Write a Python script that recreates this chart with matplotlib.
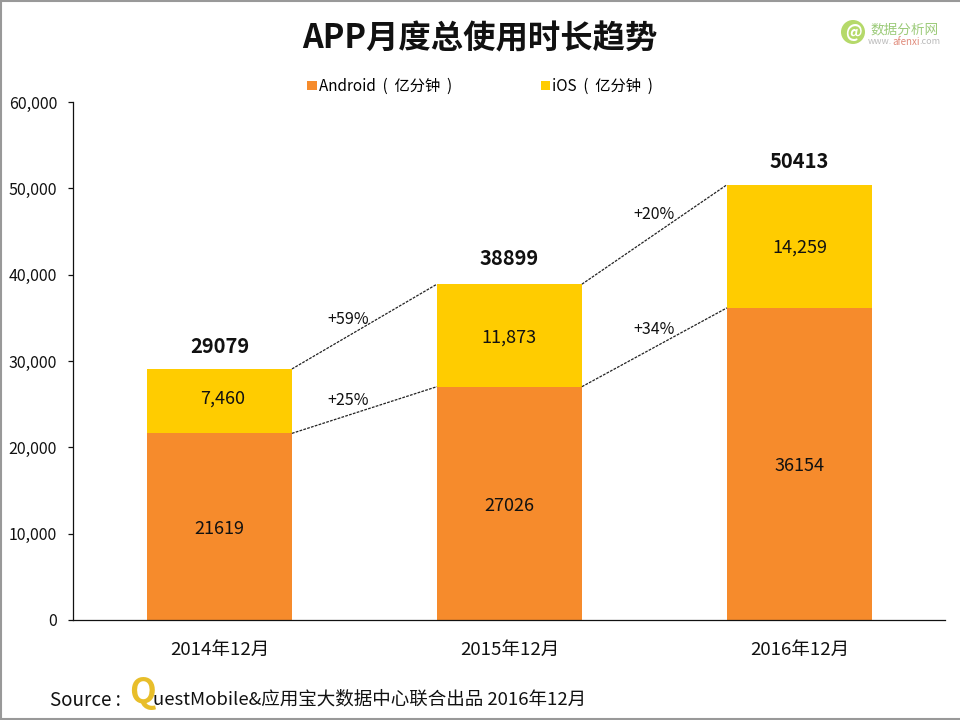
import matplotlib
matplotlib.use('Agg')
import matplotlib.pyplot as plt
from matplotlib.patches import Ellipse
from matplotlib.lines import Line2D
from matplotlib.ticker import FuncFormatter

plt.rcParams['font.family'] = ['Noto Sans CJK SC', 'DejaVu Sans']

years = ['2014年12月', '2015年12月', '2016年12月']
android = [21619, 27026, 36154]
ios = [7460, 11873, 14259]
totals = [29079, 38899, 50413]
ios_labels = ['7,460', '11,873', '14,259']
android_growth = ['+25%', '+34%']
total_growth = ['+59%', '+20%']

ORANGE = '#F68B2C'
YELLOW = '#FFCC00'
bar_w = 0.5

fig = plt.figure(figsize=(9.6, 7.2), dpi=100)
ax = fig.add_axes([73 / 960, 100 / 720, 872 / 960, 518 / 720])

x = list(range(len(years)))
ax.bar(x, android, width=bar_w, color=ORANGE, label='Android  (  亿分钟  )')
ax.bar(x, ios, width=bar_w, bottom=android, color=YELLOW, label='iOS  (  亿分钟  )')

ax.set_xlim(-0.505, 2.502)
ax.set_ylim(0, 60000)
ax.set_yticks(range(0, 60001, 10000))
ax.yaxis.set_major_formatter(FuncFormatter(lambda v, p: f'{int(v):,}'))
ax.set_xticks(x)
ax.set_xticklabels(years)
ax.tick_params(axis='x', length=0, labelsize=13.4, pad=15, colors='#111111')
ax.tick_params(axis='y', length=3.5, width=0.9, labelsize=11.5, pad=8, colors='#111111')
for s in ['top', 'right']:
    ax.spines[s].set_visible(False)
for s in ['left', 'bottom']:
    ax.spines[s].set_linewidth(0.9)
    ax.spines[s].set_color('#111111')

# value labels
android_off = [-250, -350, -250]
ios_off = [330, -200, -200]
total_off = [2650, 3000, 2700]
for i in x:
    ax.text(i, android[i] / 2 + android_off[i], str(android[i]), ha='center', va='center', fontsize=13, color='#111111')
    ax.text(i + (0.01 if i == 0 else 0), android[i] + ios[i] / 2 + ios_off[i], ios_labels[i], ha='center', va='center', fontsize=13, color='#111111')
    ax.text(i, totals[i] + total_off[i], str(totals[i]), ha='center', va='center', fontsize=14.5, fontweight='bold', color='#111111')

# growth lines between the bars
for i in range(len(x) - 1):
    ax.plot([i + bar_w / 2, i + 1 - bar_w / 2], [android[i], android[i + 1]], color='#222222', lw=0.9, ls=(0, (2.2, 1)))
    ax.plot([i + bar_w / 2, i + 1 - bar_w / 2], [totals[i], totals[i + 1]], color='#222222', lw=0.9, ls=(0, (2.2, 1)))

ax.text(0.445, 25400, android_growth[0], ha='center', va='center', fontsize=11.5, color='#111111')
ax.text(0.445, 34800, total_growth[0], ha='center', va='center', fontsize=11.5, color='#111111')
ax.text(1.5, 33650, android_growth[1], ha='center', va='center', fontsize=11.5, color='#111111')
ax.text(1.5, 46950, total_growth[1], ha='center', va='center', fontsize=11.5, color='#111111')

ax.legend(loc='lower left', bbox_to_anchor=(0.2635, 1.005), ncol=2, frameon=False, fontsize=11,
          handlelength=0.6, handleheight=0.6, handletextpad=0.15, columnspacing=5.8, borderpad=0, borderaxespad=0.3)

fig.text(480 / 960, 1 - 39 / 720, 'APP月度总使用时长趋势', ha='center', va='center', fontsize=23.3, fontweight='bold', color='#111111')

# source line
fig.text(50 / 960, 1 - 700 / 720, 'Source :', ha='left', va='center', fontsize=13.5, color='#111111')
fig.text(129 / 960, 1 - 693 / 720, 'Q', ha='left', va='center', fontsize=25, fontweight='bold', color='#E8BE2A')
fig.text(153 / 960, 1 - 700 / 720, 'uestMobile&应用宝大数据中心联合出品 2016年12月', ha='left', va='center', fontsize=13.35, color='#111111')

# logo top right
fig.add_artist(Ellipse((853 / 960, 1 - 32 / 720), 24 / 960, 24 / 720, transform=fig.transFigure, color='#B5D96A', lw=0))
fig.text(853 / 960, 1 - 32 / 720, '@', ha='center', va='center', fontsize=12, fontweight='bold', style='italic', color='white')
fig.text(870 / 960, 1 - 29 / 720, '数据分析网', ha='left', va='center', fontsize=9.8, color='#9CCB7A')
fig.text(892 / 960, 1 - 42 / 720, 'www.', ha='right', va='center', fontsize=6.5, color='#BBBBBB')
fig.text(892.5 / 960, 1 - 42 / 720, 'afenxi', ha='left', va='center', fontsize=7, color='#E08A7A')
fig.text(919.5 / 960, 1 - 42 / 720, '.com', ha='left', va='center', fontsize=6.5, color='#BBBBBB')

# grey frame around the slide, right side is not visible in the original
for xs, ys in [([0, 1], [0.999, 0.999]), ([0.001, 0.001], [0, 1]), ([0, 1], [0.001, 0.001])]:
    fig.add_artist(Line2D(xs, ys, transform=fig.transFigure, color='#999999', lw=1.5))

fig.savefig('out.png', dpi=100)
